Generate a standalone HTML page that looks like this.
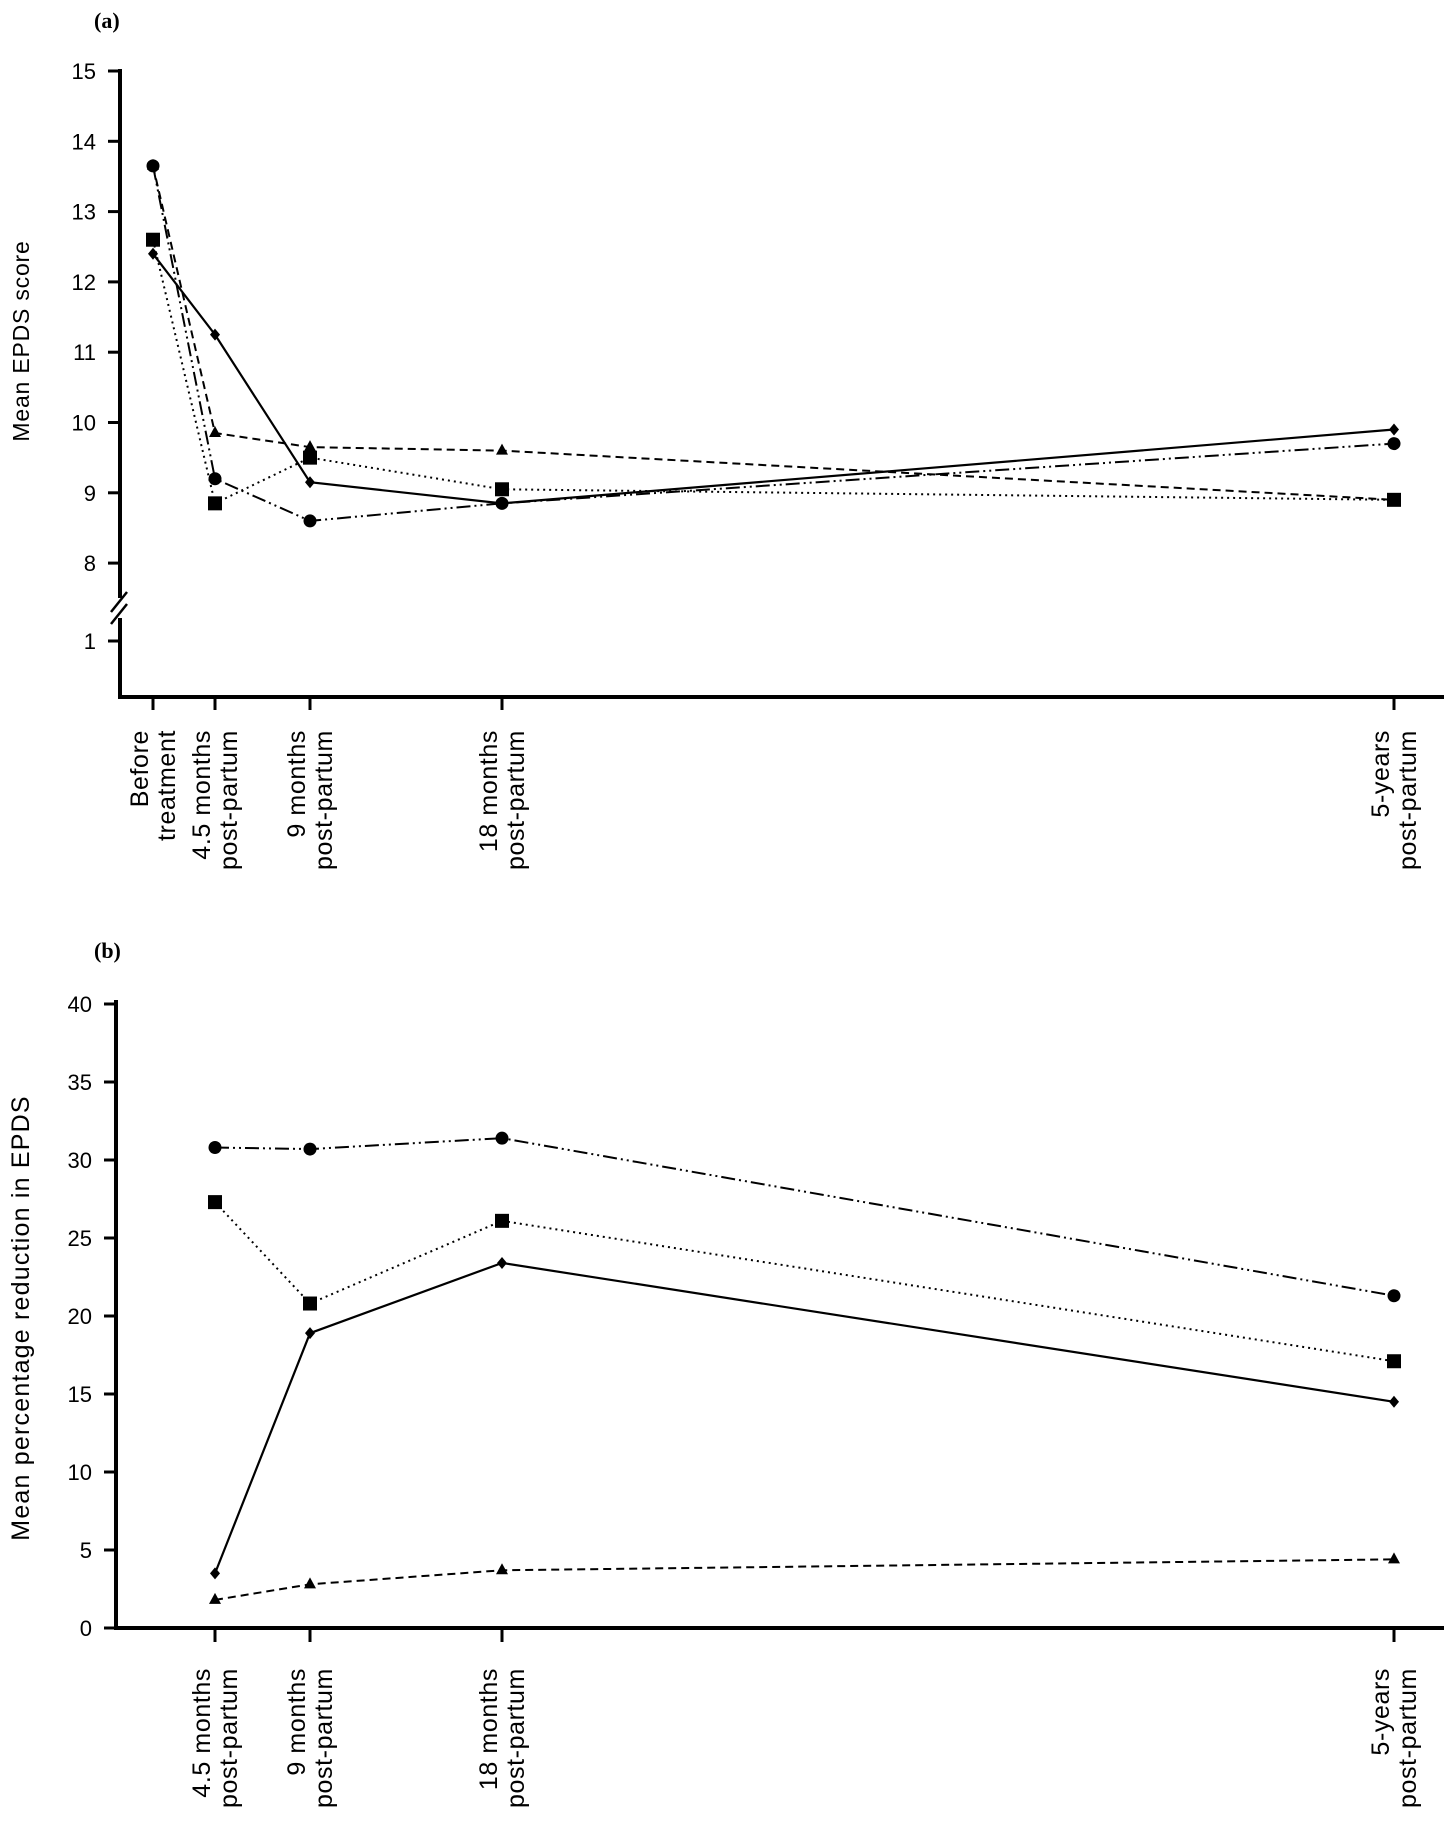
<!DOCTYPE html>
<html><head><meta charset="utf-8"><style>
html,body{margin:0;padding:0;background:#fff;}
svg{display:block;font-family:"Liberation Sans",sans-serif;}
</style></head><body>
<svg id="chart" width="1444" height="1831" viewBox="0 0 1444 1831" xmlns="http://www.w3.org/2000/svg">
<text x="94" y="28" font-family="Liberation Serif" font-weight="bold" font-size="22">(a)</text>
<text x="94" y="958" font-family="Liberation Serif" font-weight="bold" font-size="22">(b)</text>
<g id="ga"></g>
<g id="gb"></g>
</svg>
<script>
const catsA = [["Before","treatment"],["4.5 months","post-partum"],["9 months","post-partum"],["18 months","post-partum"],["5-years","post-partum"]];
const monthsA = [0, 4.5, 9, 18, 60];
const ticksA = [15,14,13,12,11,10,9,8];
const diamondA = [12.4, 11.25, 9.15, 8.85, 9.9];
const triangleA = [13.65, 9.85, 9.65, 9.6, 8.9];
const squareA = [12.6, 8.85, 9.5, 9.05, 8.9];
const circleA = [13.65, 9.2, 8.6, 8.85, 9.7];

const catsB = [["4.5 months","post-partum"],["9 months","post-partum"],["18 months","post-partum"],["5-years","post-partum"]];
const monthsB = [4.5, 9, 18, 60];
const ticksB = [0,5,10,15,20,25,30,35,40];
const circleB = [30.8, 30.7, 31.4, 21.3];
const squareB = [27.3, 20.8, 26.1, 17.1];
const diamondB = [3.5, 18.9, 23.4, 14.5];
const triangleB = [1.8, 2.8, 3.7, 4.4];

const NS="http://www.w3.org/2000/svg";
function mk(parent,tag,attrs){const e=document.createElementNS(NS,tag);for(const k in attrs)e.setAttribute(k,attrs[k]);parent.appendChild(e);return e;}

function xScale(m){
  const ms=[0,4.5,9,18,60], px=[153,215,310,502,1394];
  for(let i=0;i<ms.length-1;i++){ if(m<=ms[i+1]){return px[i]+(m-ms[i])/(ms[i+1]-ms[i])*(px[i+1]-px[i]);} }
  return px[px.length-1];
}
const yA = v => 71 + (15-v)*70.3;
const yB = v => 1628 - v*15.6;

function marker(g,type,x,y){
  let e;
  if(type==="circle") e=mk(g,"circle",{cx:x,cy:y,r:6.5,fill:"#000"});
  else if(type==="square") e=mk(g,"rect",{x:x-7,y:y-7,width:14,height:14,fill:"#000"});
  else if(type==="diamond") e=mk(g,"polygon",{points:`${x},${y-6} ${x+5},${y} ${x},${y+6} ${x-5},${y}`,fill:"#000"});
  else e=mk(g,"polygon",{points:`${x},${y-7} ${x+6},${y+4} ${x-6},${y+4}`,fill:"#000"});
  
  
}
function series(g,vals,months,ys,dash,type,name){
  const pts=vals.map((v,i)=>[xScale(months[i]),ys(v)]);
  const pl=mk(g,"polyline",{points:pts.map(p=>p.join(",")).join(" "),fill:"none",stroke:"#000","stroke-width":type==="diamond"?2.2:2,"stroke-dasharray":dash});
  
  
  pts.forEach(p=>marker(g,type,p[0],p[1]));
}
function catLabels(g,cats,months,top){
  cats.forEach((c,i)=>{
    const x=xScale(months[i]);
    [[c[0],x-5],[c[1],x+22]].forEach(([s,xx])=>{
      const t=mk(g,"text",{x:0,y:0,"font-size":25,"letter-spacing":0.6,"text-anchor":"end",transform:`translate(${xx},${top}) rotate(-90)`});
      t.textContent=s;
      
      
    });
  });
}

// Panel A
const ga=document.getElementById("ga");
mk(ga,"line",{x1:120,y1:69,x2:120,y2:598,stroke:"#000","stroke-width":4});
mk(ga,"line",{x1:120,y1:618,x2:120,y2:699,stroke:"#000","stroke-width":4});
mk(ga,"line",{x1:111,y1:612,x2:127,y2:592,stroke:"#000","stroke-width":2.5});
mk(ga,"line",{x1:111,y1:624,x2:127,y2:604,stroke:"#000","stroke-width":2.5});
mk(ga,"line",{x1:118,y1:697,x2:1444,y2:697,stroke:"#000","stroke-width":4});
ticksA.forEach(v=>{
  mk(ga,"line",{x1:108,y1:yA(v),x2:120,y2:yA(v),stroke:"#000","stroke-width":3});
  const t=mk(ga,"text",{x:96,y:yA(v)+8,"font-size":22,"text-anchor":"end"});t.textContent=v;
  
  
});
mk(ga,"line",{x1:108,y1:641,x2:120,y2:641,stroke:"#000","stroke-width":3});
{const t=mk(ga,"text",{x:96,y:649,"font-size":22,"text-anchor":"end"});t.textContent="1";

}
monthsA.forEach(m=>mk(ga,"line",{x1:xScale(m),y1:697,x2:xScale(m),y2:710,stroke:"#000","stroke-width":3}));
{const t=mk(ga,"text",{x:0,y:0,"font-size":23,"letter-spacing":0.8,"text-anchor":"middle",transform:"translate(29,341) rotate(-90)"});t.textContent="Mean EPDS score";

}
series(ga,triangleA,monthsA,yA,"8 5","triangle","triangle-series");
series(ga,squareA,monthsA,yA,"2 4","square","square-series");
series(ga,circleA,monthsA,yA,"14 4 2 4 2 4","circle","circle-series");
series(ga,diamondA,monthsA,yA,"none","diamond","diamond-series");
catLabels(ga,catsA,monthsA,730);

// Panel B
const gb=document.getElementById("gb");
mk(gb,"line",{x1:116,y1:1000,x2:116,y2:1630,stroke:"#000","stroke-width":4});
mk(gb,"line",{x1:114,y1:1628,x2:1444,y2:1628,stroke:"#000","stroke-width":4});
ticksB.forEach(v=>{
  mk(gb,"line",{x1:104,y1:yB(v),x2:116,y2:yB(v),stroke:"#000","stroke-width":3});
  const t=mk(gb,"text",{x:92,y:yB(v)+8,"font-size":22,"text-anchor":"end"});t.textContent=v;
  
  
});
monthsB.forEach(m=>mk(gb,"line",{x1:xScale(m),y1:1628,x2:xScale(m),y2:1642,stroke:"#000","stroke-width":3}));
{const t=mk(gb,"text",{x:0,y:0,"font-size":25,"letter-spacing":1.2,"text-anchor":"middle",transform:"translate(29,1318) rotate(-90)"});t.textContent="Mean percentage reduction in EPDS";

}
series(gb,triangleB,monthsB,yB,"8 5","triangle","triangle-series");
series(gb,squareB,monthsB,yB,"2 4","square","square-series");
series(gb,circleB,monthsB,yB,"14 4 2 4 2 4","circle","circle-series");
series(gb,diamondB,monthsB,yB,"none","diamond","diamond-series");
catLabels(gb,catsB,monthsB,1668);
</script>
</body></html>
